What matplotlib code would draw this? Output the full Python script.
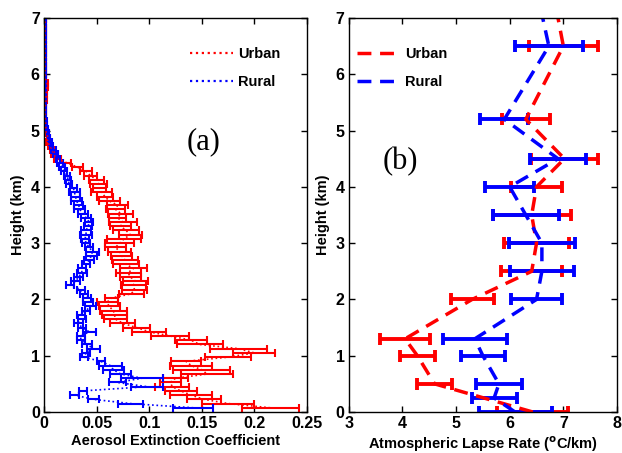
import numpy as np
import matplotlib
matplotlib.use('Agg')
import matplotlib.pyplot as plt
from matplotlib.lines import Line2D

# ---- (a) aerosol extinction profiles, 75 m range gates ----
gate = 0.075  # km
urban_ext = [0.215, 0.175, 0.152, 0.140, 0.130, 0.122, 0.120, 0.125, 0.155, 0.150,
             0.140, 0.135, 0.175, 0.200, 0.185, 0.148, 0.140, 0.120, 0.100, 0.088,
             0.075, 0.068, 0.067, 0.066, 0.062, 0.060, 0.064, 0.083, 0.086, 0.085,
             0.087, 0.082, 0.080, 0.085, 0.078, 0.077, 0.074, 0.072, 0.068, 0.072,
             0.076, 0.082, 0.078, 0.073, 0.075, 0.070, 0.073, 0.068, 0.070, 0.062,
             0.058, 0.055, 0.053, 0.052, 0.050, 0.044, 0.040, 0.032, 0.022, 0.013,
             0.010, 0.008, 0.006, 0.003, 0.004, 0.002, 0.002, 0.0015, 0.0015, 0.001,
             0.001, 0.001, 0.0015, 0.002, 0.002, 0.0025, 0.003, 0.003, 0.001, 0.001,
             0.001, 0.001, 0.001, 0.001, 0.001, 0.001, 0.001, 0.001, 0.001, 0.001,
             0.001, 0.001, 0.001]
urban_ext_err = [0.027, 0.025, 0.016, 0.020, 0.015, 0.016, 0.010, 0.012, 0.025, 0.027,
                 0.020, 0.014, 0.022, 0.020, 0.027, 0.022, 0.015, 0.018, 0.016, 0.013,
                 0.012, 0.011, 0.012, 0.013, 0.010, 0.010, 0.006, 0.012, 0.012, 0.012,
                 0.012, 0.010, 0.012, 0.013, 0.012, 0.012, 0.010, 0.011, 0.010, 0.014,
                 0.016, 0.011, 0.012, 0.010, 0.013, 0.008, 0.012, 0.009, 0.010, 0.010,
                 0.008, 0.010, 0.006, 0.008, 0.007, 0.006, 0.006, 0.005, 0.004, 0.003,
                 0.003, 0.002, 0.002, 0.0015, 0.0015, 0.001, 0.001, 0.0008, 0.0008, 0.0005,
                 0.0005, 0.0005, 0.0005, 0.0005, 0.0005, 0.0008, 0.001, 0.001, 0.0005, 0.0005,
                 0.0005, 0.0005, 0.0005, 0.0005, 0.0005, 0.0005, 0.0005, 0.0005, 0.0005, 0.0005,
                 0.0005, 0.0005, 0.0005]
rural_ext = [0.142, 0.082, 0.047, 0.029, 0.037, 0.098, 0.070, 0.093, 0.073, 0.066,
             0.063, 0.054, 0.038, 0.040, 0.047, 0.041, 0.035, 0.035, 0.043, 0.036,
             0.033, 0.036, 0.035, 0.040, 0.044, 0.042, 0.041, 0.038, 0.035, 0.025,
             0.030, 0.033, 0.036, 0.036, 0.040, 0.043, 0.045, 0.046, 0.043, 0.040,
             0.039, 0.040, 0.040, 0.042, 0.043, 0.040, 0.037, 0.034, 0.033, 0.031,
             0.030, 0.029, 0.028, 0.024, 0.023, 0.022, 0.019, 0.017, 0.015, 0.013,
             0.011, 0.009, 0.007, 0.006, 0.005, 0.004, 0.003, 0.002, 0.002, 0.0015,
             0.001, 0.001, 0.001, 0.001, 0.001, 0.001, 0.001, 0.001, 0.001, 0.001,
             0.001, 0.001, 0.001, 0.001, 0.001, 0.001, 0.001, 0.001, 0.001, 0.001,
             0.001, 0.001, 0.001]
rural_ext_err = [0.019, 0.012, 0.005, 0.004, 0.004, 0.015, 0.008, 0.020, 0.010, 0.010,
                 0.011, 0.004, 0.004, 0.004, 0.006, 0.005, 0.004, 0.004, 0.006, 0.004,
                 0.004, 0.004, 0.004, 0.004, 0.005, 0.005, 0.004, 0.004, 0.004, 0.004,
                 0.004, 0.004, 0.005, 0.004, 0.004, 0.005, 0.005, 0.006, 0.004, 0.004,
                 0.004, 0.006, 0.005, 0.004, 0.004, 0.005, 0.005, 0.005, 0.004, 0.005,
                 0.004, 0.005, 0.003, 0.003, 0.003, 0.003, 0.003, 0.003, 0.003, 0.002,
                 0.002, 0.002, 0.0015, 0.0015, 0.001, 0.001, 0.001, 0.0008, 0.0008, 0.0005,
                 0.0005, 0.0005, 0.0005, 0.0005, 0.0005, 0.0005, 0.0005, 0.0005, 0.0005, 0.0005,
                 0.0005, 0.0005, 0.0005, 0.0005, 0.0005, 0.0005, 0.0005, 0.0005, 0.0005, 0.0005,
                 0.0005, 0.0005, 0.0005]
ext_height = gate * np.arange(1, len(urban_ext) + 1)

# ---- (b) lapse rate profiles ----
urban_h = [0.0, 0.5, 1.0, 1.3, 2.0, 2.5, 3.0, 3.5, 4.0, 4.5, 5.2, 6.5, 7.5]
urban_lr = [6.43, 4.60, 4.28, 4.05, 5.30, 6.41, 6.50, 6.41, 6.50, 7.02, 6.30, 7.00, 6.80]
urban_lr_err = [0.66, 0.33, 0.33, 0.47, 0.40, 0.57, 0.60, 0.73, 0.48, 0.62, 0.45, 0.64, 0.60]
rural_h = [0.0, 0.25, 0.5, 1.0, 1.3, 2.0, 2.5, 3.0, 3.5, 4.0, 4.5, 5.2, 6.5, 7.5]
rural_lr = [6.10, 5.71, 5.80, 5.50, 5.35, 6.50, 6.60, 6.60, 6.30, 6.00, 6.90, 5.90, 6.73, 6.50]
rural_lr_err = [0.68, 0.42, 0.43, 0.41, 0.60, 0.48, 0.59, 0.62, 0.62, 0.46, 0.52, 0.45, 0.63, 0.60]

plt.rcParams['font.family'] = ['Liberation Sans', 'DejaVu Sans']
tickfont = {'family': ['Liberation Sans Narrow', 'Liberation Sans', 'DejaVu Sans'],
            'weight': 'bold', 'size': 11.5}

fig = plt.figure(figsize=(6.22, 4.53), dpi=100)
axA = fig.add_axes([0.0707, 0.0905, 0.4228, 0.8698])
axB = fig.add_axes([0.5606, 0.0905, 0.4314, 0.8698])

axA.errorbar(urban_ext, ext_height, xerr=urban_ext_err, fmt=':', color='r', lw=1.2,
             elinewidth=1.5, capsize=2.8, capthick=1.5)
axA.errorbar(rural_ext, ext_height, xerr=rural_ext_err, fmt=':', color='b', lw=1.2,
             elinewidth=1.5, capsize=2.8, capthick=1.5)
axA.set_xlim(0, 0.25)
axA.set_xticks([0, 0.05, 0.1, 0.15, 0.2, 0.25])
axA.set_xticklabels(['0', '0.05', '0.1', '0.15', '0.2', '0.25'])
axA.set_xlabel('Aerosol Extinction Coefficient', fontsize=10.5, fontweight='bold', labelpad=2)
axA.text(0.152, 4.80, '(a)', fontsize=22, family='Liberation Serif', ha='center', va='center')
legA = [Line2D([], [], color='r', ls=':', lw=1.6), Line2D([], [], color='b', ls=':', lw=1.6)]
axA.legend(legA, ['Urban', 'Rural'], loc='upper left', bbox_to_anchor=(0.555, 0.927),
           frameon=False, borderpad=0, borderaxespad=0, handlelength=2.95,
           handletextpad=0.35, labelspacing=1.0, prop={'weight': 'bold', 'size': 10.5})

axB.errorbar(urban_lr, urban_h, xerr=urban_lr_err, fmt='--', color='r', lw=2.5,
             dashes=(4, 2.5), elinewidth=2.8, capsize=4, capthick=2.8)
axB.errorbar(rural_lr, rural_h, xerr=rural_lr_err, fmt='--', color='b', lw=2.5,
             dashes=(4, 2.5), elinewidth=2.8, capsize=4, capthick=2.8)
axB.set_xlim(3, 8)
axB.set_xticks([3, 4, 5, 6, 7, 8])
axB.set_xlabel(r'Atmospheric Lapse Rate ($^{\mathbf{o}}$C/km)', fontsize=10.5,
               fontweight='bold', labelpad=2)
axB.text(3.97, 4.45, '(b)', fontsize=22, family='Liberation Serif', ha='center', va='center')
legB = [Line2D([], [], color='r', ls='--', lw=2.5, dashes=(4, 2.5)),
        Line2D([], [], color='b', ls='--', lw=2.5, dashes=(4, 2.5))]
axB.legend(legB, ['Urban', 'Rural'], loc='upper left', bbox_to_anchor=(0.031, 0.927),
           frameon=False, borderpad=0, borderaxespad=0, handlelength=2.8,
           handletextpad=0.5, labelspacing=1.0, prop={'weight': 'bold', 'size': 10.5})

for ax in (axA, axB):
    ax.set_ylim(0, 7)
    ax.set_yticks(range(8))
    ax.set_ylabel('Height (km)', fontsize=10.5, fontweight='bold', labelpad=4)
    ax.tick_params(direction='in', top=True, right=True, length=4, width=1, pad=3)
    for lab in ax.get_xticklabels() + ax.get_yticklabels():
        lab.set_fontproperties(tickfont)
    for sp in ax.spines.values():
        sp.set_linewidth(1.0)

fig.savefig('out.png', dpi=100)
